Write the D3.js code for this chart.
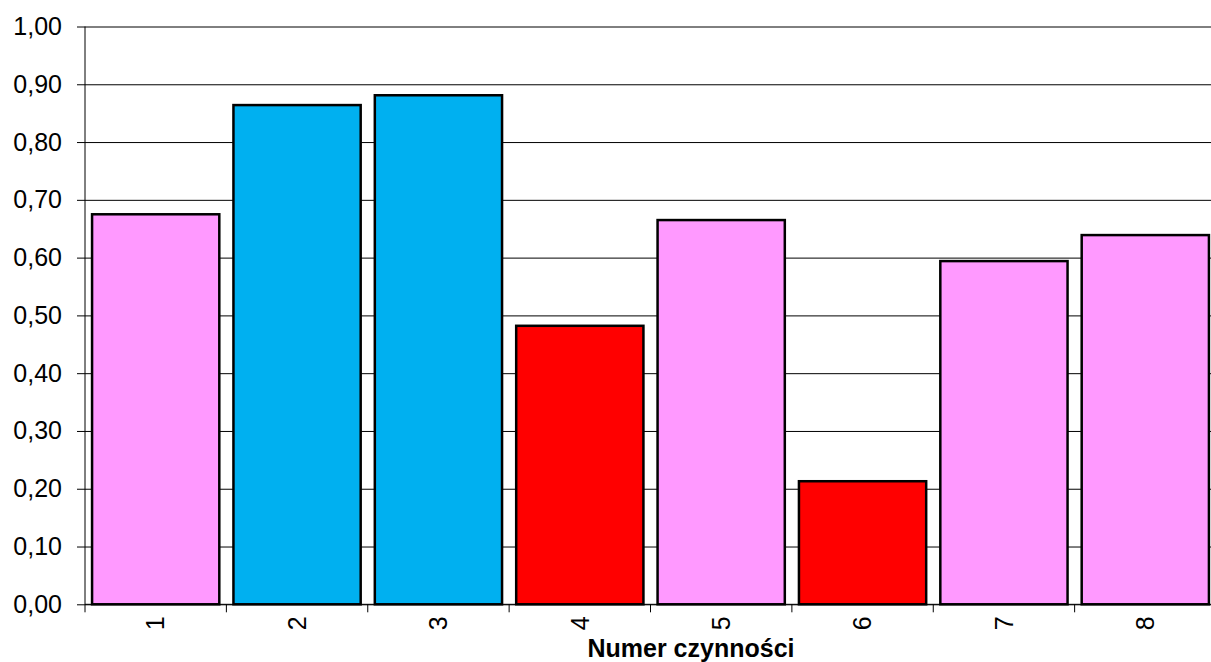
<!DOCTYPE html>
<html>
<head>
<meta charset="utf-8">
<script src="https://cdn.jsdelivr.net/npm/d3@7"></script>
<style>
	html, body { margin: 0; padding: 0; background: #fff; }
	svg { display: block; font-family: 'Liberation Sans', Arial, sans-serif; }
</style>
</head>
<body>
<div id="canvas"></div>
<script>
// dane
const categories = ['1', '2', '3', '4', '5', '6', '7', '8'];
const values = [0.675, 0.864, 0.881, 0.482, 0.665, 0.213, 0.594, 0.639];
const groups = ['a', 'b', 'b', 'c', 'a', 'c', 'a', 'a'];
const yTicks = [0, 0.1, 0.2, 0.3, 0.4, 0.5, 0.6, 0.7, 0.8, 0.9, 1.0];
const xTitle = 'Numer czynności';

function onLoad () {
	const w = 1211, h = 662;
	const m = { left: 85, right: 1216, top: 26.5, bottom: 604.3 };

	const svg = d3.select('#canvas')
	.append('svg')
		.attr('width', w)
		.attr('height', h)
		.attr('viewBox', [0, 0, w, h]);

	const x = d3.scaleBand()
		.domain(categories)
		.range([m.left, m.right])
		.paddingInner(0.1)
		.paddingOuter(0.05);

	const y = d3.scaleLinear()
		.domain([0, 1])
		.range([m.bottom, m.top]);

	const color = d3.scaleOrdinal()
		.domain(['a', 'b', 'c'])
		.range(['#FF99FF', '#00B0F0', '#FF0000']);

	const fmt = d => d3.format('.2f')(d).replace('.', ',');

	// siatka + oś Y
	const yAxis = svg.append('g')
		.attr('class', 'y-axis')
		.attr('transform', `translate(${m.left},0)`)
		.call(d3.axisLeft(y).tickValues(yTicks).tickFormat(fmt).tickSize(8).tickSizeOuter(0));
	yAxis.select('.domain').remove();
	yAxis.selectAll('.tick line')
		.attr('x2', m.right - m.left)
		.attr('x1', -8)
		.style('stroke', '#000');
	yAxis.selectAll('.tick text')
		.attr('x', -23)
		.style('font-size', '25px')
		.style('fill', '#000');

	svg.append('line')
		.attr('x1', m.left)
		.attr('x2', m.left)
		.attr('y1', m.top)
		.attr('y2', m.bottom + 8)
		.style('stroke', '#000');

	// słupki
	svg.append('g')
		.attr('class', 'bars')
	.selectAll('rect')
	.data(categories.map((c, i) => ({ c, v: values[i], g: groups[i] })))
	.join('rect')
		.attr('x', d => x(d.c))
		.attr('y', d => y(d.v))
		.attr('width', x.bandwidth())
		.attr('height', d => y(0) - y(d.v))
		.style('fill', d => color(d.g))
		.style('stroke', '#000')
		.style('stroke-width', 2.5);

	// oś X
	const step = x.step();
	const xg = svg.append('g')
		.attr('class', 'x-axis');
	xg.append('line')
		.attr('x1', m.left)
		.attr('x2', w)
		.attr('y1', y(0))
		.attr('y2', y(0))
		.style('stroke', '#000');
	xg.selectAll('line.tick')
	.data(categories.slice(1))
	.join('line')
		.attr('class', 'tick')
		.attr('x1', d => x(d) - x.paddingOuter() * step)
		.attr('x2', d => x(d) - x.paddingOuter() * step)
		.attr('y1', y(0))
		.attr('y2', y(0) + 8)
		.style('stroke', '#000');

	svg.append('text')
		.attr('x', 691)
		.attr('y', 657)
		.attr('text-anchor', 'middle')
		.style('font-size', '25px')
		.style('font-weight', 'bold')
		.text(xTitle);

	xg.selectAll('text.cat')
	.data(categories)
	.join('text')
		.attr('class', 'cat')
		.attr('transform', d => `translate(${x(d) + x.bandwidth() / 2},${y(0) + 12})rotate(-90)`)
		.attr('dy', '0.35em')
		.attr('text-anchor', 'end')
		.style('font-size', '25px')
		.style('fill', '#000')
		.text(d => d);
}

if (document.readyState === 'loading') {
	document.addEventListener('DOMContentLoaded', onLoad);
} else {
	onLoad();
}
</script>
</body>
</html>
